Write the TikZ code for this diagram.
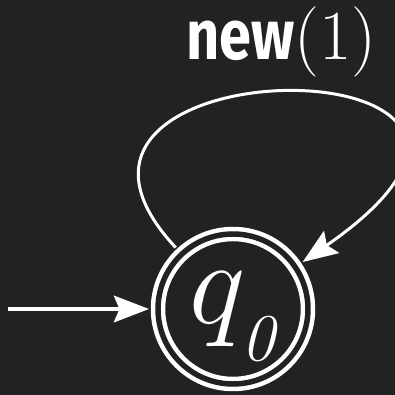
\RequirePackage{fix-cm}
\documentclass[tikz,border=0pt]{standalone}
\usepackage{fontspec}
\newfontfamily\labelfont{Fira Sans}
\usetikzlibrary{automata,positioning,arrows.meta}
\definecolor{bg}{HTML}{222222}

\begin{document}
\begin{tikzpicture}[white, >={Stealth[length=10pt, width=7.6pt, inset=1.6pt]}]
    \fill[bg] (0,0) rectangle (3.95,3.95);
    \useasboundingbox (0,0) rectangle (3.95,3.95);

    \node[state, accepting, draw=white, double=bg, line width=1.28pt, double distance=1.56pt,
          minimum size=1.5cm, inner sep=0pt, outer sep=0.09cm, text height=14.6pt, text depth=6.6pt,
          font=\fontsize{34}{40}\selectfont] (q0) at (2.33,0.86)
          {$q_{\raisebox{-5.5pt}{\fontsize{19}{20}\selectfont\itshape 0}}$};
    \coordinate[left=1.41cm of q0] (start);

    \draw[->, line width=0.95pt] (start) -- (q0);
    \draw[->, line width=0.85pt] (q0.133) .. controls +(-1.95,2.09) and +(3.23,2.24) .. (q0.34)
        node[midway, above, inner sep=4pt, xshift=-0.06cm, font=\fontsize{20}{24}\selectfont] (lbl)
        {\scalebox{0.82}[1]{\labelfont\bfseries new}$(1)$};
\end{tikzpicture}
\end{document}
